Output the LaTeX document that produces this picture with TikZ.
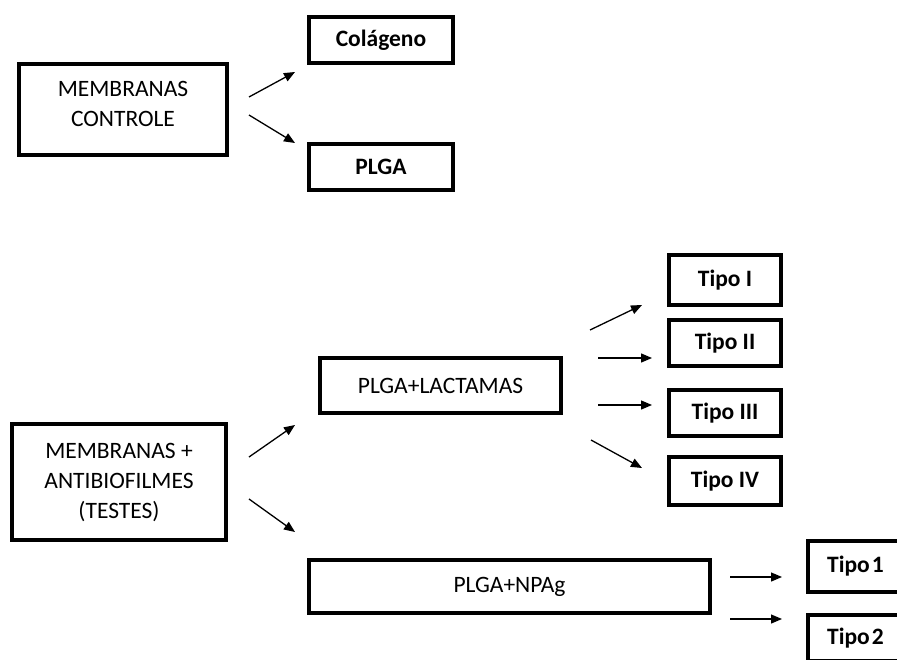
\documentclass[tikz,border=0pt]{standalone}
\usepackage{fontspec}
\setmainfont{Carlito}
\usetikzlibrary{arrows.meta}
\begin{document}
\begin{tikzpicture}[x=1pt,y=-1pt,
  box/.style={draw=black,line width=4.3pt,rectangle,inner sep=0pt,align=center,
    font=\fontsize{23.5}{30}\selectfont},
  bbox/.style={box,font=\fontsize{23.5}{30}\selectfont\bfseries},
  arr/.style={line width=1.3pt,-{Triangle[length=11pt,width=9pt]}}]
\useasboundingbox (0,0) rectangle (897,659);
% top group
\node[box,minimum width=208pt,minimum height=91pt] (ctrl) at (123,109.5) {MEMBRANAS\\CONTROLE\\[-18pt]\mbox{}};
\node[bbox,minimum width=144pt,minimum height=46pt] (col) at (381,40) {Colágeno};
\node[bbox,minimum width=144pt,minimum height=46pt] (plga) at (381,167) {PLGA};
% bottom group
\node[box,minimum width=214pt,minimum height=116pt] (test) at (119,482) {MEMBRANAS +\\ANTIBIOFILMES\\(TESTES)};
\node[box,minimum width=241pt,minimum height=55pt] (lact) at (440.5,385.5) {PLGA+LACTAMAS};
\node[bbox,minimum width=112pt,minimum height=50pt] (t1) at (725,280) {Tipo I};
\node[bbox,minimum width=112pt,minimum height=46pt] (t2) at (725,343) {Tipo II};
\node[bbox,minimum width=112pt,minimum height=46pt] (t3) at (725,413) {Tipo III};
\node[bbox,minimum width=112pt,minimum height=48pt] (t4) at (725,481) {Tipo IV};
\node[box,minimum width=401pt,minimum height=53pt] (npag) at (509.5,586.5) {PLGA+NPAg};
\node[bbox,anchor=west,text width=100pt,inner xsep=19pt,align=left,minimum height=51pt] (k1) at (806,566.5) {Tipo\kern2pt 1};
\node[bbox,anchor=north west,text width=100pt,inner xsep=19pt,align=left,minimum height=46pt] (k2) at (806,613) {Tipo\kern2pt 2};
% connector end points
\coordinate (a1s) at (249,97);  \coordinate (a1e) at (295,72);
\coordinate (a2s) at (249,115); \coordinate (a2e) at (295,143);
\coordinate (b1s) at (249,457); \coordinate (b1e) at (295,425);
\coordinate (b2s) at (249,499); \coordinate (b2e) at (295,532);
\coordinate (c1s) at (590,330); \coordinate (c1e) at (642,305);
\coordinate (c2s) at (598,358); \coordinate (c2e) at (652,358);
\coordinate (c3s) at (598,405); \coordinate (c3e) at (652,405);
\coordinate (c4s) at (591,440); \coordinate (c4e) at (642,468);
\coordinate (d1s) at (730,577); \coordinate (d1e) at (782,577);
\coordinate (d2s) at (730,619); \coordinate (d2e) at (782,619);
\draw[arr] (a1s) -- (a1e);
\draw[arr] (a2s) -- (a2e);
\draw[arr] (b1s) -- (b1e);
\draw[arr] (b2s) -- (b2e);
\draw[arr] (c1s) -- (c1e);
\draw[arr] (c2s) -- (c2e);
\draw[arr] (c3s) -- (c3e);
\draw[arr] (c4s) -- (c4e);
\draw[arr] (d1s) -- (d1e);
\draw[arr] (d2s) -- (d2e);
\end{tikzpicture}
\end{document}
